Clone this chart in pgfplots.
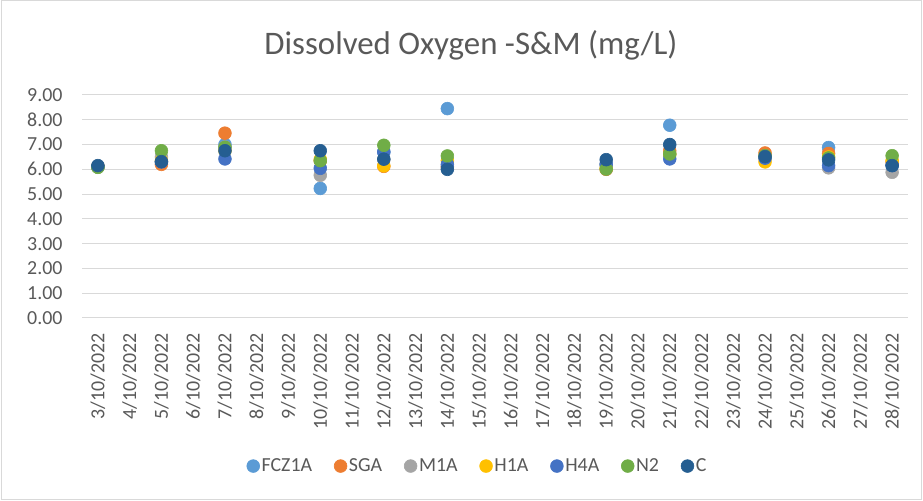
\documentclass[border=0pt]{standalone}
\usepackage{fontspec}
\setmainfont{Carlito}
\usepackage{pgfplots}
\pgfplotsset{compat=1.18}
\definecolor{txt}{HTML}{595959}
\definecolor{gridc}{HTML}{D9D9D9}
\definecolor{cA}{HTML}{5B9BD5}
\definecolor{cB}{HTML}{ED7D31}
\definecolor{cC}{HTML}{A5A5A5}
\definecolor{cD}{HTML}{FFC000}
\definecolor{cE}{HTML}{4472C4}
\definecolor{cF}{HTML}{70AD47}
\definecolor{cG}{HTML}{255E91}
\begin{document}
\begin{tikzpicture}[x=1bp,y=1bp]
\path[use as bounding box] (0,0) rectangle (923,501);
\draw[gridc, line width=1bp] (1,1) rectangle (921,500);
\node[txt, font=\fontsize{33}{39}\selectfont] at (471,456) {Dissolved Oxygen -S\&M (mg/L)};
\begin{axis}[
  at={(82bp,183bp)}, anchor=south west,
  scale only axis, width=826bp, height=223bp,
  xmin=2.5, xmax=28.5, ymin=0, ymax=9,
  xtick={3,...,28},
  xticklabels={3/10/2022,4/10/2022,5/10/2022,6/10/2022,7/10/2022,8/10/2022,9/10/2022,10/10/2022,11/10/2022,12/10/2022,13/10/2022,14/10/2022,15/10/2022,16/10/2022,17/10/2022,18/10/2022,19/10/2022,20/10/2022,21/10/2022,22/10/2022,23/10/2022,24/10/2022,25/10/2022,26/10/2022,27/10/2022,28/10/2022},
  x tick label style={rotate=90, anchor=east, font=\fontsize{20}{24}\selectfont, text=txt},
  ytick={0,1,...,9},
  y tick label style={font=\fontsize{20}{24}\selectfont, text=txt},
  yticklabel={\pgfmathprintnumber[fixed,fixed zerofill,precision=2,assume math mode=true]{\tick}},
  ymajorgrids, major grid style={gridc, line width=1bp},
  axis line style={draw=none},
  major tick length=0pt,
  xticklabel shift=12bp, yticklabel shift=16bp,
  clip=false,
  legend columns=-1,
  legend style={at={(0.479,-0.664)}, anchor=center, draw=none, fill=none, font=\fontsize{20}{24}\selectfont, text=txt, /tikz/every even column/.append style={column sep=20bp}},
  legend image code/.code={\draw[#1] plot coordinates {(0bp,0bp)};},
  every axis plot/.append style={only marks, mark=*, mark size=6.4bp, line width=0.6bp},
]
\addplot[cA] coordinates {(3,6.1) (5,6.3) (7,7.0) (10,5.23) (12,6.7) (14,8.45) (19,6.2) (21,7.78) (24,6.5) (26,6.88) (28,6.2)};
\addlegendentry{FCZ1A}
\addplot[cB] coordinates {(3,6.12) (5,6.2) (7,7.46) (10,6.35) (12,6.12) (14,6.1) (19,6.0) (21,6.75) (24,6.66) (26,6.64) (28,6.3)};
\addlegendentry{SGA}
\addplot[cC] coordinates {(3,6.1) (5,6.5) (7,6.9) (10,5.76) (12,6.4) (14,6.1) (19,6.2) (21,6.6) (24,6.45) (26,6.06) (28,5.88)};
\addlegendentry{M1A}
\addplot[cD] coordinates {(3,6.1) (5,6.35) (7,6.75) (10,6.4) (12,6.14) (14,6.35) (19,6.05) (21,6.6) (24,6.3) (26,6.5) (28,6.35)};
\addlegendentry{H1A}
\addplot[cE] coordinates {(3,6.1) (5,6.3) (7,6.42) (10,6.04) (12,6.7) (14,6.2) (19,6.2) (21,6.42) (24,6.45) (26,6.15) (28,6.15)};
\addlegendentry{H4A}
\addplot[cF] coordinates {(3,6.08) (5,6.75) (7,6.89) (10,6.35) (12,6.97) (14,6.54) (19,6.01) (21,6.62) (24,6.55) (26,6.46) (28,6.55)};
\addlegendentry{N2}
\addplot[cG] coordinates {(3,6.15) (5,6.31) (7,6.75) (10,6.75) (12,6.41) (14,6.0) (19,6.39) (21,7.0) (24,6.51) (26,6.38) (28,6.15)};
\addlegendentry{C}
\end{axis}
\end{tikzpicture}
\end{document}
